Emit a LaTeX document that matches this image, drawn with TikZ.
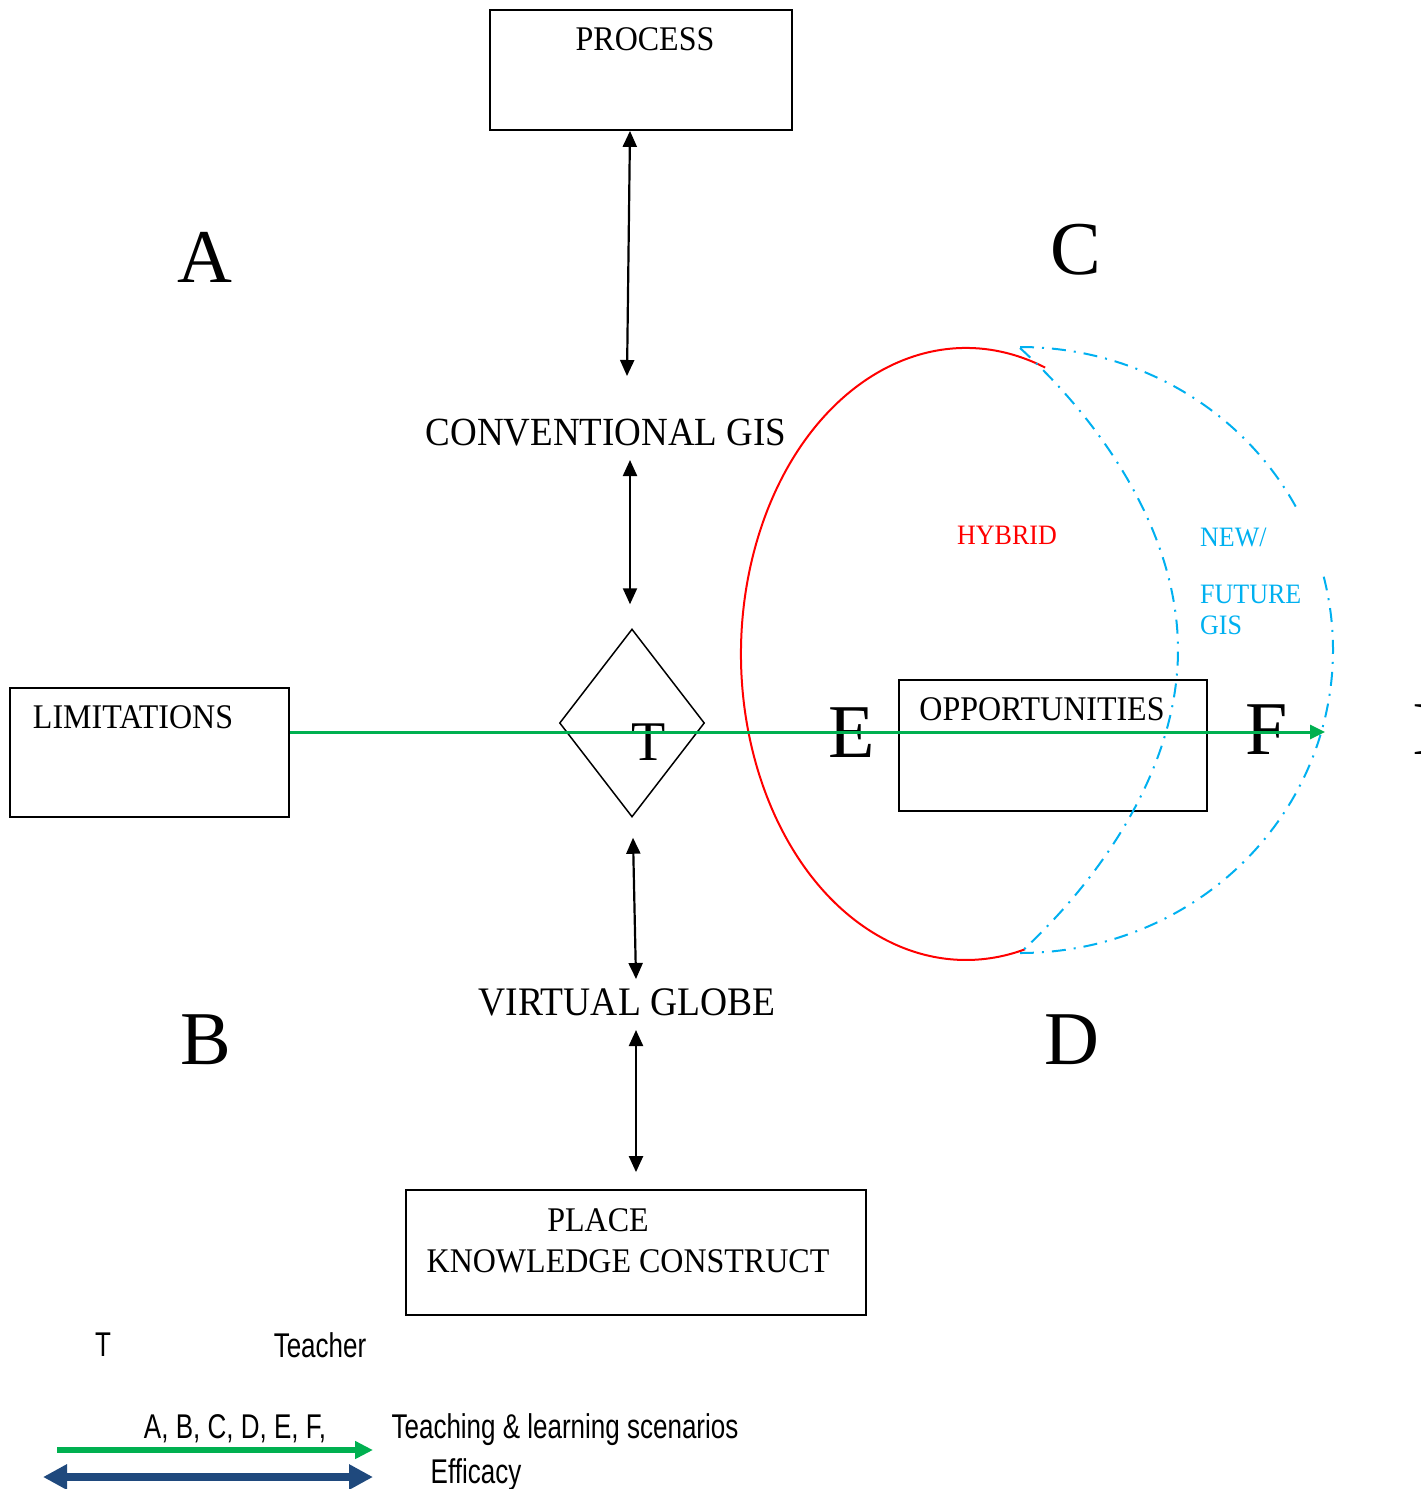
\documentclass[tikz,border=0pt]{standalone}
\usepackage{fontspec}
\usepackage{graphicx}
\setmainfont{Liberation Serif}
\setsansfont{Liberation Sans}
\usetikzlibrary{shapes.geometric,arrows.meta,calc}
\definecolor{flowgreen}{RGB}{0,176,80}
\definecolor{futblue}{RGB}{0,176,240}
\definecolor{effblue}{RGB}{31,73,125}
\newcommand{\tallrm}[1]{\scalebox{1}[1.08]{#1}}
\newcommand{\tallsf}[1]{\scalebox{1}[1.32]{#1}}
\tikzset{box/.style={draw, line width=1.8pt, inner sep=0pt},
  txt/.style={inner sep=0pt, text depth=0pt},
  scen/.style={txt, font=\fontsize{76}{80}\selectfont},
  link/.style={line width=2.2pt, {Triangle[length=16pt,width=14pt]}-{Triangle[length=16pt,width=14pt]}},
  flow/.style={flowgreen, line width=3pt, -{Triangle[length=15pt,width=14pt]}},
  hyb/.style={red, line width=2pt},
  fut/.style={futblue, line width=2pt, dash pattern=on 14pt off 8pt on 2pt off 8pt},
  legend/.style={txt, font=\sffamily\fontsize{26}{30}\selectfont}}

\begin{document}
\begin{tikzpicture}[x=1pt,y=-1pt]
  \useasboundingbox (0,0) rectangle (1421,1489);
  % boxes
  \node[box, minimum width=302pt, minimum height=120pt] (process) at (641,70) {};
  \node[box, minimum width=279pt, minimum height=129pt] (limits) at (149.5,752.5) {};
  \node[box, minimum width=308pt, minimum height=131pt] (opport) at (1053,745.5) {};
  \node[box, minimum width=460pt, minimum height=125pt] (place) at (636,1252.5) {};
  \node[draw, line width=1.5pt, diamond, inner sep=0pt, minimum width=145pt, minimum height=188pt] (teacher) at (632,723) {};
  % texts
  \node[txt, font=\fontsize{32}{36}\selectfont] (processtxt) at (645,39) {\tallrm{PROCESS}};
  \node[txt, font=\fontsize{32}{36}\selectfont] (limitstxt) at (133,717) {\tallrm{LIMITATIONS}};
  \node[txt, font=\fontsize{32}{36}\selectfont] (opporttxt) at (1042,709) {\tallrm{OPPORTUNITIES}};
  \node[txt, font=\fontsize{32}{36}\selectfont] (placetxt) at (598,1220) {\tallrm{PLACE}};
  \node[txt, font=\fontsize{32}{36}\selectfont] (knowtxt) at (628,1261) {\tallrm{KNOWLEDGE CONSTRUCT}};
  \node[txt, font=\fontsize{37}{40}\selectfont] (conv) at (606,432) {\tallrm{CONVENTIONAL GIS}};
  \node[txt, font=\fontsize{37.5}{40}\selectfont] (globe) at (627,1002) {\tallrm{VIRTUAL GLOBE}};
  \node[txt, red, font=\fontsize{26}{30}\selectfont] (hybrid) at (1007,535) {\tallrm{HYBRID}};
  \node[txt, futblue, anchor=west, font=\fontsize{26}{30}\selectfont] (newtxt) at (1200,537) {\tallrm{NEW/}};
  \node[txt, futblue, anchor=west, font=\fontsize{26}{30}\selectfont] (futtxt) at (1200,594) {\tallrm{FUTURE}};
  \node[txt, futblue, anchor=west, font=\fontsize{26}{30}\selectfont] (gistxt) at (1200,625) {\tallrm{GIS}};
  % scenario letters
  \node[scen] (sa) at (205,257) {A};
  \node[scen] (sb) at (206,1040) {B};
  \node[scen] (sc) at (1076,249) {C};
  \node[scen] (sd) at (1072,1040) {D};
  \node[scen] (se) at (852,733) {E};
  \node[scen] (sf) at (1267,730) {F};
  \node[scen] (si) at (1425,730) {I};
  \node[txt, font=\fontsize{56}{60}\selectfont] (ttxt) at (649,742) {T};
  % hybrid and future outlines
  \draw[hyb] (966,654) ++(-69.4:225 and 306) arc[start angle=-69.4, end angle=-285.2, x radius=225, y radius=306];
  \draw[fut] (1020,348) .. controls (1110,430) and (1178,540) .. (1178,650)
    .. controls (1178,760) and (1110,870) .. (1020,953);
  \draw[fut] (1020,650) ++(-90:313 and 303) arc[start angle=-90, end angle=-27, x radius=313, y radius=303];
  \draw[fut] (1020,650) ++(-14:313 and 303) arc[start angle=-14, end angle=90, x radius=313, y radius=303];
  % links
  \draw[link] ($(process.south)+(-11,0)$) -- ($(conv.center)+(21,-56)$);
  \draw[link] ($(conv.center)+(24,28)$) -- ($(teacher.north)+(-2,-24)$);
  \draw[link] ($(teacher.south)+(1,20)$) -- ($(globe.center)+(9,-23)$);
  \draw[link] ($(globe.center)+(9,28)$) -- ($(place.north)+(0,-17)$);
  \coordinate (flowend) at (1325,732);
  \draw[flow] ($(limits.east)+(0,-20.5)$) -- (flowend);
  % legend
  \node[legend] (keyt) at (103,1345) {\tallsf{T}};
  \node[legend] (keyteacher) at (320,1345) {\tallsf{Teacher}};
  \node[legend] (keyletters) at (235,1426) {\tallsf{A, B, C, D, E, F,}};
  \node[legend] (keyscen) at (565,1426) {\tallsf{Teaching \& learning scenarios}};
  \node[legend] (keyeff) at (476,1471) {\tallsf{Efficacy}};
  \coordinate (gstart) at (57,1450);
  \coordinate (gend) at (373,1450);
  \coordinate (bstart) at (43,1477);
  \coordinate (bend) at (373,1477);
  \draw[flowgreen, line width=6pt, -{Triangle[length=18pt,width=17pt]}] (gstart) -- (gend);
  \draw[effblue, line width=8pt, {Triangle[length=24pt,width=24pt]}-{Triangle[length=24pt,width=24pt]}] (bstart) -- (bend);
\end{tikzpicture}
\end{document}
